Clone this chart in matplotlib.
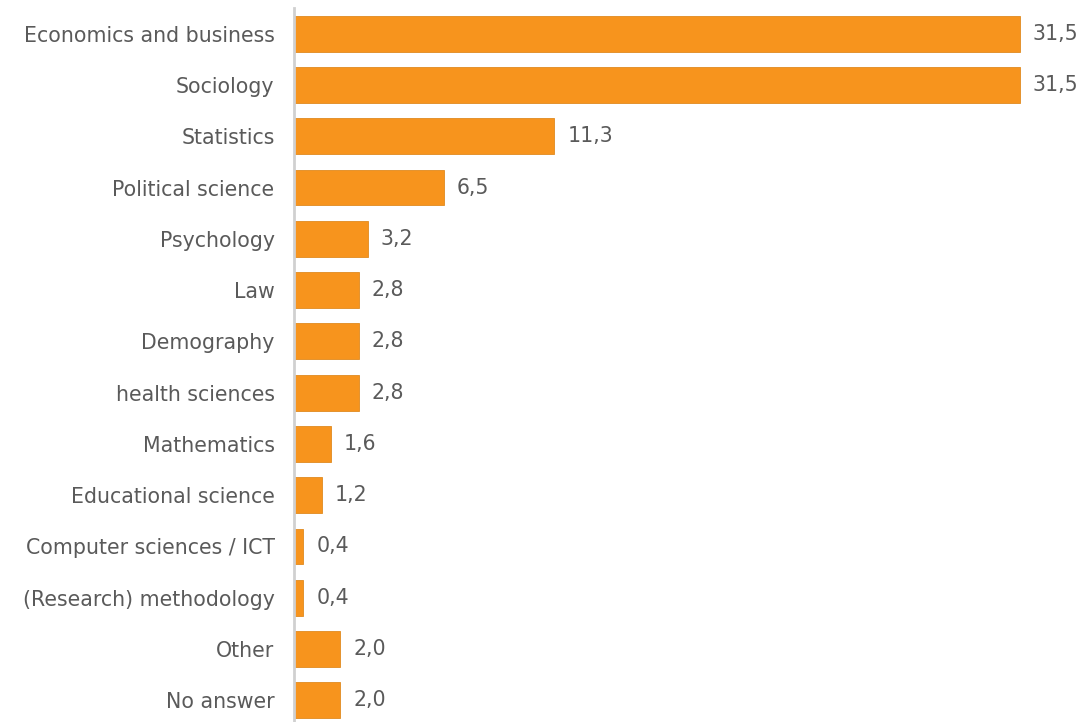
import matplotlib.pyplot as plt

# Share of respondents by field of study (%)
fields = [
    "Economics and business", "Sociology", "Statistics", "Political science",
    "Psychology", "Law", "Demography", "health sciences", "Mathematics",
    "Educational science", "Computer sciences / ICT", "(Research) methodology",
    "Other", "No answer",
]
shares = [31.5, 31.5, 11.3, 6.5, 3.2, 2.8, 2.8, 2.8, 1.6, 1.2, 0.4, 0.4, 2.0, 2.0]

BAR_COLOR = "#F7941D"
TEXT_COLOR = "#5A5A5A"

plt.rcParams["font.family"] = ["DejaVu Sans"]

fig = plt.figure(figsize=(10.85, 7.22), dpi=100)
# axes: left spine at x=294px, 51.3px per category row
ax = fig.add_axes([294 / 1085, (722 - 726) / 722, 791 / 1085, 718 / 722])

pos = list(range(len(fields)))
ax.barh(pos, shares, height=0.70, color=BAR_COLOR, edgecolor="#E08A20", linewidth=0.6)

for y, v in zip(pos, shares):
    ax.annotate(f"{v:.1f}".replace(".", ","), (v, y), xytext=(13, 0),
                textcoords="offset pixels",
                va="center", ha="left", fontsize=14.8, color=TEXT_COLOR)

ax.set_yticks(pos)
ax.set_yticklabels(fields, fontsize=14.8, color=TEXT_COLOR)
ax.tick_params(axis="y", length=0, pad=14)
ax.set_xticks([])
ax.set_xlim(0, 31.5 * 791 / 726)
ax.set_ylim(len(fields) - 0.5, -0.5)

for side in ("top", "right", "bottom"):
    ax.spines[side].set_visible(False)
ax.spines["left"].set_color("#D0D0D0")
ax.spines["left"].set_linewidth(2)
ax.spines["left"].set_bounds(-0.5, 13.4)

fig.savefig("out.png", dpi=100)
